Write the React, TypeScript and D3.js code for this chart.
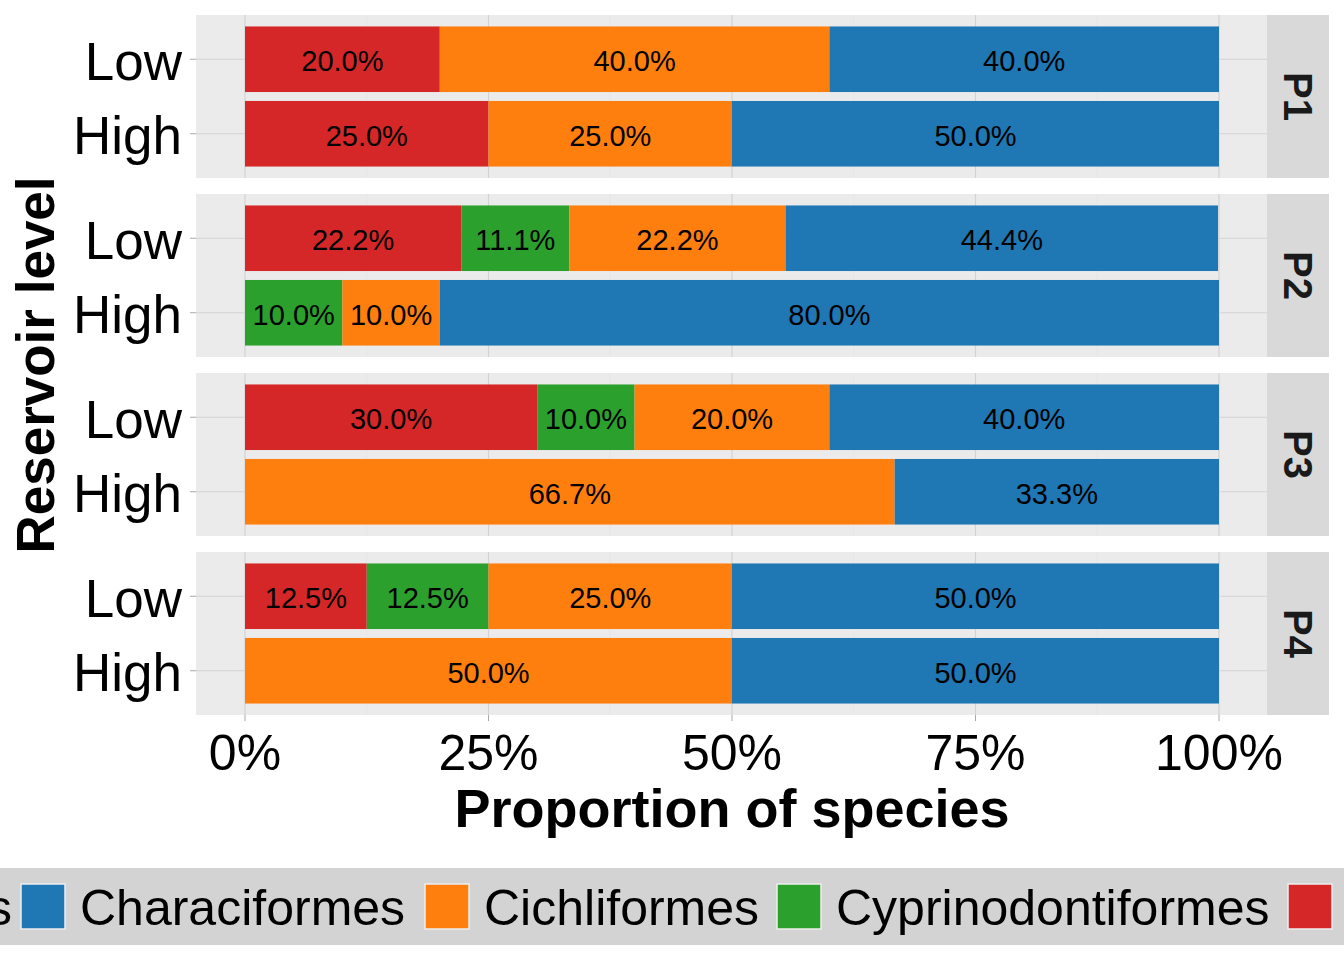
import React from "react";
import * as d3 from "d3";

const panels = ["P1", "P2", "P3", "P4"];
const levels = ["Low", "High"];
const orders = ["Siluriformes", "Cyprinodontiformes", "Cichliformes", "Characiformes"]; // stack order left->right
const legendOrders = ["Characiformes", "Cichliformes", "Cyprinodontiformes", "Siluriformes"];
const colors: Record<string, string> = {
  Characiformes: "#1f77b4",
  Cichliformes: "#ff7f0e",
  Cyprinodontiformes: "#2ca02c",
  Siluriformes: "#d62728",
};
// values per panel per level, in order of `orders`
const values: Record<string, Record<string, number[]>> = {
  P1: { Low: [20.0, 0, 40.0, 40.0], High: [25.0, 0, 25.0, 50.0] },
  P2: { Low: [22.2, 11.1, 22.2, 44.4], High: [0, 10.0, 10.0, 80.0] },
  P3: { Low: [30.0, 10.0, 20.0, 40.0], High: [0, 0, 66.7, 33.3] },
  P4: { Low: [12.5, 12.5, 25.0, 50.0], High: [0, 0, 50.0, 50.0] },
};
const xTicks = [0, 25, 50, 75, 100];

export default function App() {
  const W = 1344, H = 960;
  const px0 = 196, px1 = 1267, stripW = 62;
  const panelTops = [15, 194, 373, 552];
  const ph = 163;
  const x = d3.scaleLinear().domain([0, 100]).range([245, 1219]);
  const y = d3.scaleBand().domain(levels).range([4, ph - 4]).paddingInner(0.12).paddingOuter(0.1);
  const font = "Liberation Sans, Arial, sans-serif";
  const legendX = [21, 425, 777, 1288];
  return (
    <svg width={W} height={H} style={{ position: "absolute", left: 0, top: 0, background: "#fff" }} fontFamily={font}>
      {panels.map((p, pi) => {
        const top = panelTops[pi];
        return (
          <g key={p} transform={`translate(0,${top})`}>
            <rect x={px0} y={0} width={px1 - px0} height={ph} fill="#ebebeb" />
            {xTicks.map((t) => (
              <line key={t} x1={x(t)} x2={x(t)} y1={0} y2={ph} stroke="#d3d3d3" strokeWidth={1.2} />
            ))}
            {[12.5, 37.5, 62.5, 87.5].map((t) => (
              <line key={t} x1={x(t)} x2={x(t)} y1={0} y2={ph} stroke="#e3e3e3" strokeWidth={0.6} />
            ))}
            {levels.map((l) => (
              <line key={l} x1={px0} x2={px1} y1={y(l)! + y.bandwidth() / 2} y2={y(l)! + y.bandwidth() / 2} stroke="#d3d3d3" strokeWidth={1.2} />
            ))}
            {levels.map((l) => {
              let acc = 0;
              return orders.map((o, oi) => {
                const v = values[p][l][oi];
                const start = acc;
                acc += v;
                if (v <= 0) return null;
                return (
                  <g key={l + o}>
                    <rect x={x(start)} y={y(l)} width={x(start + v) - x(start)} height={y.bandwidth()} fill={colors[o]} />
                    <text x={x(start + v / 2)} y={y(l)! + y.bandwidth() / 2 + 2} textAnchor="middle" dominantBaseline="central" fontSize={29}>
                      {v.toFixed(1)}%
                    </text>
                  </g>
                );
              });
            })}
            {levels.map((l) => (
              <g key={"t" + l}>
                <line x1={px0 - 6} x2={px0} y1={y(l)! + y.bandwidth() / 2} y2={y(l)! + y.bandwidth() / 2} stroke="#aaa" />
                <text x={px0 - 14} y={y(l)! + y.bandwidth() / 2 + 2} textAnchor="end" dominantBaseline="central" fontSize={53}>
                  {l}
                </text>
              </g>
            ))}
            <rect x={px1} y={0} width={stripW} height={ph} fill="#d9d9d9" />
            <text transform={`translate(${px1 + stripW / 2},${ph / 2}) rotate(90)`} textAnchor="middle" dominantBaseline="central" fontSize={40} fontWeight="bold" fill="#1a1a1a">
              {p}
            </text>
          </g>
        );
      })}
      {xTicks.map((t) => (
        <g key={t}>
          <line x1={x(t)} x2={x(t)} y1={715} y2={721} stroke="#aaa" />
          <text x={x(t)} y={770} textAnchor="middle" fontSize={50}>{t}%</text>
        </g>
      ))}
      <text x={x(50)} y={827} textAnchor="middle" fontSize={54} fontWeight="bold">Proportion of species</text>
      <text transform="translate(54,365) rotate(-90)" textAnchor="middle" fontSize={53} fontWeight="bold">Reservoir level</text>
      <rect x={0} y={868} width={W} height={77} fill="#d3d3d3" />
      <text x={12} y={925} textAnchor="end" fontSize={50}>Orders</text>
      {legendOrders.map((o, i) => (
        <g key={o}>
          <rect x={legendX[i]} y={884} width={44} height={45} fill={colors[o]} stroke="#eee" strokeWidth={1.5} />
          <text x={legendX[i] + 59} y={925} fontSize={50}>{o}</text>
        </g>
      ))}
    </svg>
  );
}
